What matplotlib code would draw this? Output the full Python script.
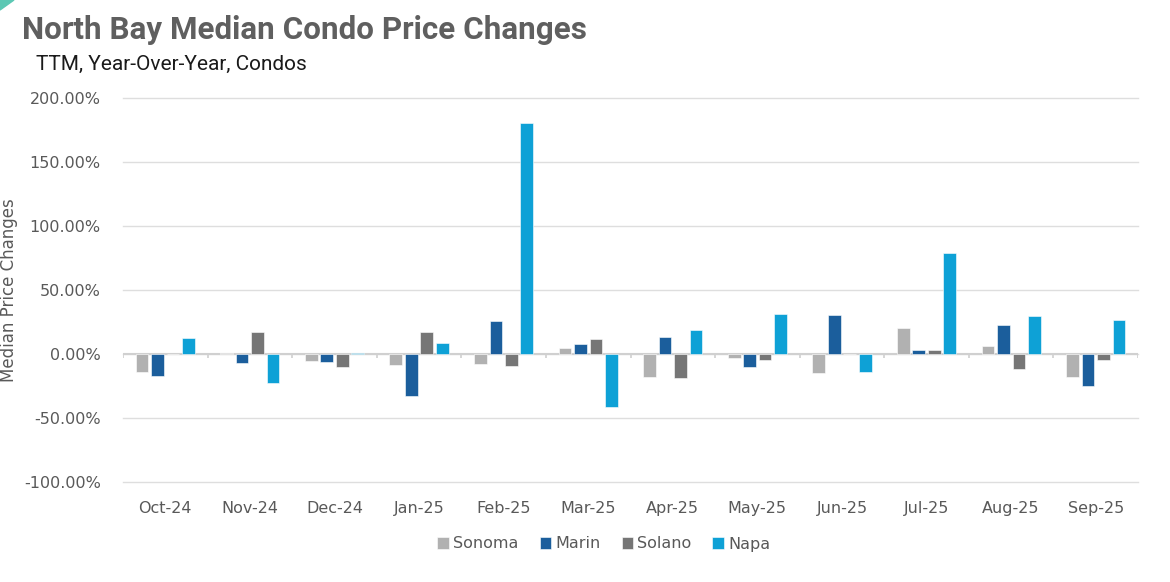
import matplotlib
matplotlib.use("Agg")
import matplotlib.pyplot as plt
import numpy as np
from matplotlib.patches import Polygon

months = ["Oct-24", "Nov-24", "Dec-24", "Jan-25", "Feb-25", "Mar-25",
          "Apr-25", "May-25", "Jun-25", "Jul-25", "Aug-25", "Sep-25"]
sonoma = [-14.0, 1.0, -5.5, -8.5, -8.0, 5.0, -18.0, -3.0, -15.0, 20.0, 6.5, -18.0]
marin = [-17.5, -7.0, -6.0, -33.0, 26.0, 8.0, 13.5, -10.5, 30.7, 3.5, 22.5, -25.0]
solano = [0.0, 17.5, -10.0, 17.5, -9.5, 11.5, -19.0, -4.5, 0.0, 3.5, -11.5, -4.5]
napa = [12.5, -23.0, 0.5, 8.5, 180.5, -41.5, 19.0, 31.0, -14.0, 78.6, 29.5, 26.5]

series = [("Sonoma", sonoma, "#b1b1b1"),
          ("Marin", marin, "#1b5e9c"),
          ("Solano", solano, "#767676"),
          ("Napa", napa, "#0ea1d6")]

fig = plt.figure(figsize=(11.7, 5.82), dpi=100)
ax = fig.add_axes([123/1170, 1-482/582, (1138-123)/1170, (482-98)/582])

x = np.arange(len(months))
step = 0.183
width = 0.15
for i, (name, vals, col) in enumerate(series):
    ax.bar(x + (i - 1.5) * step, vals, width, color=col, label=name, zorder=3,
           edgecolor="white", linewidth=0.4)

ax.set_xlim(-0.5, len(months) - 0.5)
ax.set_ylim(-100, 200)
ax.set_yticks(np.arange(-100, 201, 50))
ax.set_yticklabels([f"{v:.2f}%" for v in np.arange(-100, 201, 50)])
ax.yaxis.grid(True, color="#dedede", linewidth=1.0, zorder=0)
for gl in ax.yaxis.get_gridlines():
    gl.set_clip_on(False)
ax.axhline(0, color="#d0d0d0", linewidth=1.5, zorder=2)
bounds = np.arange(len(months) + 1) - 0.5
ax.vlines(bounds, -3.5, 0, color="#d0d0d0", linewidth=1.2, zorder=2)
ax.set_xticks(x)
ax.set_xticklabels(months)
for s in ax.spines.values():
    s.set_visible(False)
ax.tick_params(axis="both", length=0, colors="#595959", labelsize=11.5)
ax.tick_params(axis="x", pad=14)
ax.tick_params(axis="y", pad=16)
ax.set_ylabel("Median Price Changes", color="#595959", fontsize=12, labelpad=4)

fig.text(22/1170, 1-30/582, "North Bay Median Condo Price Changes", fontsize=22.6,
         fontweight="bold", color="#5f5f5f", va="center", ha="left", family="Roboto")
fig.text(36/1170, 1-64/582, "TTM, Year-Over-Year, Condos", fontsize=15,
         color="#1a1a1a", va="center", ha="left", family="Roboto")

leg = fig.legend(loc="center", bbox_to_anchor=(604/1170, 1-544/582), ncol=4, frameon=False,
                 fontsize=11.5, handlelength=0.7, handleheight=0.7, handletextpad=0.3,
                 columnspacing=1.3)
for t in leg.get_texts():
    t.set_color("#595959")

# decorative corner
fig.patches.append(Polygon([[0, 1], [14/1170, 1], [0, 1-10/582]], closed=True,
                           transform=fig.transFigure, color="#5cc8b4"))

fig.savefig("out.png", dpi=100, facecolor="white")
